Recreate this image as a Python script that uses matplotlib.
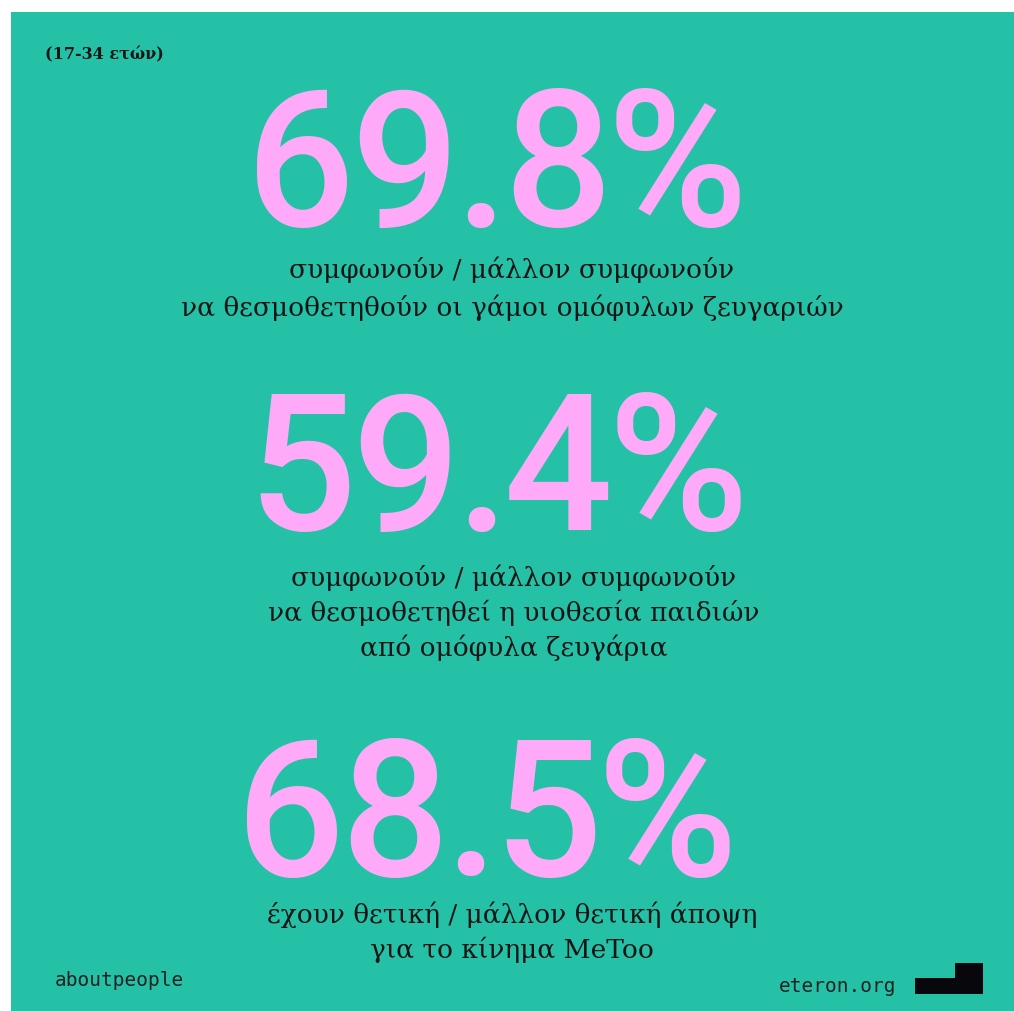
import matplotlib.pyplot as plt
from matplotlib.patches import Rectangle, Polygon

# data
age_label = "(17-34 ετών)"
percentages = ["69.8%", "59.4%", "68.5%"]
captions = [
    ["συμφωνούν / μάλλον συμφωνούν",
     "να θεσμοθετηθούν οι γάμοι ομόφυλων ζευγαριών"],
    ["συμφωνούν / μάλλον συμφωνούν",
     "να θεσμοθετηθεί η υιοθεσία παιδιών",
     "από ομόφυλα ζευγάρια"],
    ["έχουν θετική / μάλλον θετική άποψη",
     "για το κίνημα MeToo"],
]
source_left = "aboutpeople"
source_right = "eteron.org"

teal = '#25c1a7'
pink = '#ffaaf8'
dark = '#151515'

W, H = 1014, 1011
fig = plt.figure(figsize=(W / 100, H / 100), dpi=100)
ax = fig.add_axes([0, 0, 1, 1])
ax.set_xlim(0, W)
ax.set_ylim(H, 0)
ax.set_axis_off()
renderer = fig.canvas.get_renderer()

ax.add_patch(Rectangle((11, 12), W - 11, H - 12, color=teal, lw=0))

ax.text(45, 55, age_label, fontsize=11.5, fontweight='bold', family='DejaVu Serif',
        color=dark, ha='left', va='center')


def tight_number(s, xc, base, gap=-5):
    # big number drawn glyph by glyph, with tight tracking
    style = dict(fontsize=138, family='Roboto', fontweight='medium', color=pink,
                 ha='left', va='baseline')
    parts = [ax.text(0, base, ch, **style) for ch in s]
    widths = [p.get_window_extent(renderer).width for p in parts]
    x = xc - (sum(widths) + gap * (len(s) - 1)) / 2
    for p, w in zip(parts, widths):
        p.set_x(x)
        x += w + gap


# big numbers (baseline) and captions
num_base = [226.5, 530.5, 875.5]
num_x = [497, 498, 487]
cap_x = [512, 514, 512]
cap_y = [[270, 308], [578, 613, 648], [915, 950]]
for pct, x, y, lines, cx, ys in zip(percentages, num_x, num_base, captions, cap_x, cap_y):
    tight_number(pct, x, y)
    for line, ly in zip(lines, ys):
        ax.text(cx, ly, line, fontsize=19, family='DejaVu Serif', color=dark,
                ha='center', va='center')

ax.text(55, 980, source_left, fontsize=14, family='DejaVu Sans Mono', color='#222',
        ha='left', va='center')
ax.text(779, 987, source_right, fontsize=14, family='DejaVu Sans Mono', color='#222',
        ha='left', va='center')

# logo
ax.add_patch(Polygon([(915, 994), (983, 994), (983, 963), (955, 963), (955, 978), (915, 978)],
                     closed=True, color='#08080c', lw=0))

fig.savefig('out.png', dpi=100)
